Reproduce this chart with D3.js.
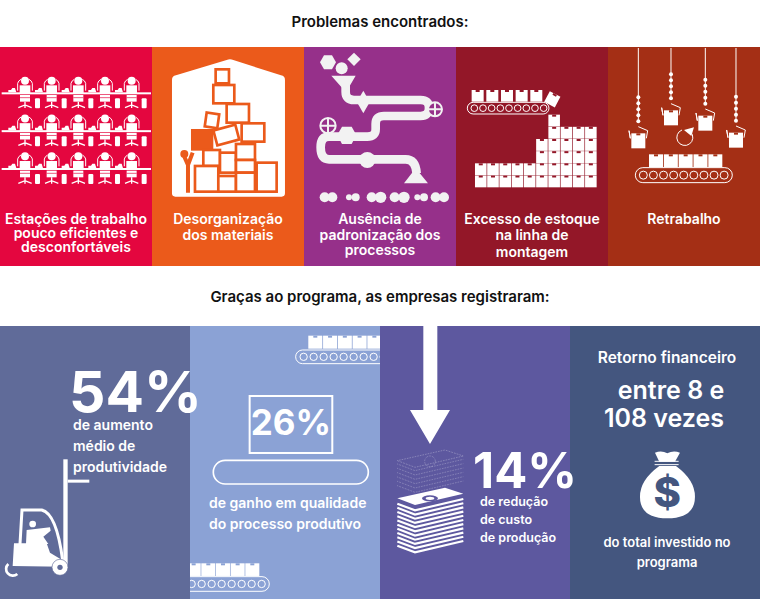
<!DOCTYPE html>
<html>
<head>
<meta charset="utf-8">
<script src="https://cdn.jsdelivr.net/npm/d3@7"></script>
<style>
  html, body { margin: 0; padding: 0; background: #fff; }
  svg { display: block; }
  text { font-family: Inter, "Noto Sans", sans-serif; }
</style>
</head>
<body>
<div id="chart"></div>
<script>
//DATA
var problemsTitle = "Problemas encontrados:";
var resultsTitle = "Graças ao programa, as empresas registraram:";

var problemLabels = [
    ["Estações de trabalho", "pouco eficientes e", "desconfortáveis"],
    ["Desorganização", "dos materiais"],
    ["Ausência de", "padronização dos", "processos"],
    ["Excesso de estoque", "na linha de", "montagem"],
    ["Retrabalho"]
];
var problemColors = ["#e4063f", "#eb5a1b", "#96308a", "#931728", "#a42f15"];

var resultColors = ["#606b99", "#8ba2d5", "#5d589f", "#44567f"];

// boxes in each column of the pile in the "excesso de estoque" panel
var stockColumns = [2, 2, 2, 2, 2, 4, 6, 5, 5, 5];

var workerRows = [0, 1, 2];
var workerCols = [0, 1, 2, 3, 4];

//SIZING
var width = 760, height = 599;
var WHITE = "#fff";

var svg = d3.select("#chart").append("svg")
    .attr("width", width)
    .attr("height", height);

var defs = svg.append("defs");

var problemX = d3.scaleBand().domain(d3.range(problemLabels.length)).range([0, width]);
var resultX = d3.scaleBand().domain(d3.range(resultColors.length)).range([0, width]);

//TITLES
function label(parent, str, x, y, size, anchor, weight) {
    return parent.append("text")
        .attr("x", x)
        .attr("y", y)
        .attr("fill", WHITE)
        .attr("font-size", size)
        .attr("font-weight", weight || 600)
        .attr("text-anchor", anchor || "middle")
        .text(str);
}

label(svg, problemsTitle, 380, 27, 15, "middle", 600).attr("fill", "#111");
label(svg, resultsTitle, 380, 302, 15, "middle", 600).attr("fill", "#111");

//PANELS
svg.selectAll(".problem")
    .data(problemColors)
    .enter().append("rect")
    .attr("class", "problem")
    .attr("x", function (d, i) { return problemX(i); })
    .attr("y", 47)
    .attr("width", problemX.bandwidth())
    .attr("height", 219)
    .attr("fill", function (d) { return d; });

svg.selectAll(".result")
    .data(resultColors)
    .enter().append("rect")
    .attr("class", "result")
    .attr("x", function (d, i) { return resultX(i); })
    .attr("y", 326)
    .attr("width", resultX.bandwidth())
    .attr("height", 273)
    .attr("fill", function (d) { return d; });

// panel labels
var lineY = [[224, 238, 252], [224, 240], [224, 240, 255], [224, 240, 257], [224]];
problemLabels.forEach(function (lines, i) {
    lines.forEach(function (str, j) {
        label(svg, str, problemX(i) + problemX.bandwidth() / 2, lineY[i][j], 14);
    });
});

//ICON HELPERS
// icons are laid out at 3x inside their own group
function icon(x, y) {
    return svg.append("g").attr("transform", "translate(" + x + "," + y + ") scale(0.3333)");
}

function stockBox(g, x, y, w, h, tape) {
    g.append("rect").attr("x", x).attr("y", y).attr("width", w - 2).attr("height", h).attr("fill", WHITE);
    g.append("rect").attr("x", x + w / 2 - 7).attr("y", y).attr("width", 12).attr("height", 6).attr("fill", tape);
}

function conveyor(g, x0, y0, x1, y1, first, step, r, n, sw) {
    g.append("rect")
        .attr("x", x0).attr("y", y0)
        .attr("width", x1 - x0).attr("height", y1 - y0)
        .attr("rx", (y1 - y0) / 2)
        .attr("fill", "none").attr("stroke", WHITE).attr("stroke-width", sw);
    g.selectAll(".roller")
        .data(d3.range(n))
        .enter().append("circle")
        .attr("class", "roller")
        .attr("cx", function (d) { return first + d * step; })
        .attr("cy", (y0 + y1) / 2)
        .attr("r", r)
        .attr("fill", "none").attr("stroke", WHITE).attr("stroke-width", sw);
}

//PANEL 1 - WORKERS
function drawWorkers() {
    var g = icon(0, 40);
    var rowY = d3.scalePoint().domain(workerRows).range([160, 387]);
    var colX = d3.scalePoint().domain(workerCols).range([75, 395]);
    workerRows.forEach(function (r) {
        var y = rowY(r);
        g.append("rect").attr("x", 5).attr("y", y - 3).attr("width", 448).attr("height", 6).attr("fill", WHITE);
        workerCols.forEach(function (c) {
            var w = g.append("g").attr("transform", "translate(" + colX(c) + "," + y + ")");
            w.append("circle").attr("cy", -38).attr("r", 12).attr("fill", WHITE);
            w.append("path").attr("d", "M-22,-8 L-22,-30 Q-20,-38 -12,-42 M22,-8 L22,-30 Q20,-38 12,-42")
                .attr("fill", "none").attr("stroke", WHITE).attr("stroke-width", 3);
            w.append("rect").attr("x", -16).attr("y", -24).attr("width", 32).attr("height", 24).attr("fill", WHITE);
            w.append("rect").attr("x", -15).attr("y", 5).attr("width", 30).attr("height", 20).attr("fill", WHITE);
            w.append("path").attr("d", "M-15,13 L15,13").attr("stroke", problemColors[0]).attr("stroke-width", 2);
            w.append("path").attr("d", "M0,25 L0,44 M-20,43 L0,35 L20,43")
                .attr("fill", "none").attr("stroke", WHITE).attr("stroke-width", 4);
            w.append("path").attr("d", "M-50,-3 L-50,-10 L-42,-10 L-38,-16 L-30,-16 L-26,-3 Z").attr("fill", WHITE);
            w.append("rect").attr("x", 30).attr("y", 15).attr("width", 15).attr("height", 30).attr("rx", 3).attr("fill", WHITE);
        });
    });
}

//PANEL 2 - PILE OF MATERIALS
var pileOutlines = [
    [647, 88, 40, 42, 0], [640, 135, 63, 55, 0], [680, 192, 67, 56, 0],
    [617, 220, 38, 42, 8], [645, 262, 68, 46, -15], [725, 250, 68, 55, 0],
    [610, 330, 50, 48, 0], [660, 338, 48, 60, 0], [708, 312, 57, 48, 0],
    [708, 360, 57, 38, 0], [585, 378, 70, 77, 0], [655, 408, 53, 47, 0],
    [708, 398, 57, 57, 0], [770, 368, 60, 87, 0]
];

function drawPile() {
    var g = icon(0, 40);
    g.append("path")
        .attr("d", "M516,120 Q516,108 528,106 L680,60 Q690,56 700,60 L843,106 Q855,108 855,120 L855,460 Q855,470 845,470 L526,470 Q516,470 516,460 Z")
        .attr("fill", WHITE);
    var c = problemColors[1];
    g.append("rect").attr("x", 573).attr("y", 267).attr("width", 67).attr("height", 65).attr("fill", c);
    pileOutlines.forEach(function (b) {
        g.append("rect")
            .attr("x", b[0]).attr("y", b[1]).attr("width", b[2]).attr("height", b[3])
            .attr("transform", "rotate(" + b[4] + "," + (b[0] + b[2] / 2) + "," + (b[1] + b[3] / 2) + ")")
            .attr("fill", WHITE).attr("stroke", c).attr("stroke-width", 8);
    });
    g.append("circle").attr("cx", 553).attr("cy", 342).attr("r", 12).attr("fill", c);
    g.append("path").attr("d", "M564,458 L564,375 L578,338 M553,350 L564,375").attr("fill", "none").attr("stroke", c).attr("stroke-width", 12);
}

//PANEL 3 - PIPES
function drawPipes() {
    var g = icon(304, 40);
    var pipe = "M125,130 L125,155 Q125,180 150,180 L350,180 Q375,180 375,204 Q375,228 350,228 L240,228 Q215,228 215,252 L215,268 Q215,290 190,290 L75,290 Q50,290 50,322 Q50,358 75,358 L305,358 Q335,358 338,400";
    g.append("path").attr("d", pipe).attr("fill", "none").attr("stroke", "#f2f2f2").attr("stroke-width", 26);
    g.append("path").attr("d", "M82,107 L155,107 L130,150 L120,150 Z M335,385 L372,430 L300,430 Z").attr("fill", "#f2f2f2");
    // pipe joints and shapes falling in
    g.append("path").attr("d", d3.symbol(d3.symbolDiamond, 1300)()).attr("transform", "translate(178,186)").attr("fill", "#f2f2f2");
    g.append("path").attr("d", "M100,285 L114,260 L143,260 L157,285 L143,312 L114,312 Z").attr("fill", "#f2f2f2");
    g.append("circle").attr("cx", 190).attr("cy", 360).attr("r", 24).attr("fill", "#f2f2f2");
    g.append("path").attr("d", "M48,67 L60,46 L84,46 L96,67 L84,88 L60,88 Z").attr("fill", "#f2f2f2");
    g.append("circle").attr("cx", 113).attr("cy", 85).attr("r", 18).attr("fill", "#f2f2f2");
    g.append("path").attr("d", "M150,38 L170,58 L150,78 L130,58 Z").attr("fill", "#f2f2f2");
    // valves
    [[393, 208, 21], [72, 257, 23]].forEach(function (v) {
        var o = g.append("g").attr("transform", "translate(" + v[0] + "," + v[1] + ")");
        o.append("circle").attr("r", v[2]).attr("fill", problemColors[2]).attr("stroke", "#f2f2f2").attr("stroke-width", 6);
        o.append("path").attr("d", "M" + (-v[2]) + ",0 H" + v[2] + " M0," + (-v[2]) + " V" + v[2]).attr("stroke", "#f2f2f2").attr("stroke-width", 6);
    });
    // pieces leaving the line
    [[62, 15], [85, 15], [135, 9], [155, 12], [203, 15], [230, 17], [272, 15], [300, 17], [340, 9], [360, 12], [395, 15], [420, 15]].forEach(function (b) {
        g.append("circle").attr("cx", b[0]).attr("cy", 472).attr("r", b[1]).attr("fill", "#f2f2f2");
    });
}

//PANEL 4 - STOCK
function drawStock() {
    var g = icon(304, 40);
    var tape = problemColors[3];
    conveyor(g, 490, 187, 735, 222, 511, 26, 10, 9, 3);
    d3.range(5).forEach(function (i) {
        stockBox(g, 503 + i * 44, 150, 38, 35, tape);
    });
    var tilted = g.append("g").attr("transform", "rotate(28,745,178)");
    stockBox(tilted, 727, 160, 38, 36, tape);

    var col = d3.scaleBand().domain(d3.range(stockColumns.length)).range([513, 880]);
    var row = d3.scaleLinear().domain([0, 6]).range([443, 224]);
    stockColumns.forEach(function (n, i) {
        d3.range(n).forEach(function (k) {
            stockBox(g, col(i), row(k + 1), col.bandwidth(), row(k) - row(k + 1) - 1, tape);
        });
    });
}

//PANEL 5 - REWORK
var hookX = [91, 189, 292, 384];
var hookBeads = [172, 103, 119, 170];

function drawRework() {
    var g = icon(608, 40);
    var tape = problemColors[4];
    hookX.forEach(function (x, i) {
        var b = hookBeads[i];
        g.append("line").attr("x1", x).attr("x2", x).attr("y1", 24).attr("y2", b + 70)
            .attr("stroke", WHITE).attr("stroke-width", 3);
        d3.range(5).forEach(function (k) {
            g.append("circle").attr("cx", x).attr("cy", b + k * 18).attr("r", 6).attr("fill", WHITE);
        });
        var t = b + 88;
        stockBox(g, x - 21, t + 20, 44, 45, tape);
        g.append("path")
            .attr("d", "M" + x + "," + t + " L" + (x + 28) + "," + (t + 12) + " L" + (x + 24) + "," + (t + 35) + " M" + (x - 24) + "," + (t + 35) + " L" + (x - 28) + "," + (t + 12) + " Z")
            .attr("fill", "none").attr("stroke", WHITE).attr("stroke-width", 3);
    });
    g.append("path").attr("d", "M222,270 A24,24 0 1 0 248,276").attr("fill", "none").attr("stroke", WHITE).attr("stroke-width", 3);
    g.append("path").attr("d", "M258,262 L228,270 L250,288 Z").attr("fill", WHITE);
    d3.range(5).forEach(function (i) {
        stockBox(g, 123 + i * 44.5, 343, 44, 39, tape);
    });
    conveyor(g, 82, 383, 373, 428, 106, 30.3, 12, 9, 3);
}

//RESULT 1 - PRODUCTIVITY
function drawForklift() {
    var g = icon(0, 320);
    var c = resultColors[0];
    g.append("rect").attr("x", 190).attr("y", 418).attr("width", 13).attr("height", 320).attr("fill", WHITE);
    g.append("rect").attr("x", 203).attr("y", 479).attr("width", 65).attr("height", 9).attr("fill", WHITE);
    g.append("path").attr("d", "M60,672 L66,570 L125,570 Q170,580 188,722").attr("fill", "none").attr("stroke", WHITE).attr("stroke-width", 9);
    g.append("path").attr("d", "M42,670 L140,670 L150,698 L190,722 L190,740 L38,738 Z").attr("fill", WHITE);
    g.append("circle").attr("cx", 98).attr("cy", 612).attr("r", 10).attr("fill", WHITE);
    g.append("path").attr("d", "M80,630 L112,626 L150,622 L152,632 L130,650 L145,672 L78,672 Z").attr("fill", WHITE);
    g.append("circle").attr("cx", 180).attr("cy", 742).attr("r", 24).attr("fill", WHITE).attr("stroke", c).attr("stroke-width", 2);
    g.append("circle").attr("cx", 180).attr("cy", 742).attr("r", 8).attr("fill", c);
    g.append("path").attr("d", "M25,732 A16,16 0 0 0 52,762").attr("fill", "none").attr("stroke", WHITE).attr("stroke-width", 8);
}

//RESULT 2 - QUALITY
function drawQuality() {
    var g = icon(0, 320);
    var clip = defs.append("clipPath").attr("id", "quality");
    clip.append("rect").attr("x", 570).attr("y", 0).attr("width", 570).attr("height", 840);
    var tape = resultColors[1];

    var top = g.append("g").attr("clip-path", "url(#quality)");
    conveyor(top, 887, 90, 1200, 131, 911, 30, 11, 9, 3);
    d3.range(5).forEach(function (i) {
        top.append("g").call(function (s) { stockBox(s, 925 + i * 44.3, 47, 44, 39, tape); });
    });

    var bottom = g.append("g").attr("clip-path", "url(#quality)");
    conveyor(bottom, 520, 770, 808, 814, 545, 30, 11, 9, 3);
    d3.range(5).forEach(function (i) {
        stockBox(bottom, 560 + i * 44, 730, 44, 38, tape);
    });

    g.append("rect").attr("x", 749).attr("y", 228).attr("width", 248).attr("height", 171)
        .attr("fill", "none").attr("stroke", WHITE).attr("stroke-width", 6);
    conveyor(g, 640, 421, 1105, 492, 682, 48.5, 20, 9, 5);
}

//RESULT 3 - COST
function drawMoney() {
    var g = icon(380, 320);
    g.append("path").attr("d", "M130,18 H172 V270 H210 L150,372 L90,270 H130 Z").attr("fill", WHITE);

    var face = "M52,0 L195,-32 L250,-14 L105,20 Z";
    var edge = "M52,0 L105,20 L250,-14";

    // ghost stack above (what was cut)
    d3.range(6).forEach(function (i) {
        g.append("path").attr("transform", "translate(0," + (432 + i * 13) + ")").attr("d", edge)
            .attr("fill", "none").attr("stroke", WHITE).attr("stroke-opacity", 0.55).attr("stroke-width", 2).attr("stroke-dasharray", "2 3");
    });
    g.append("path").attr("transform", "translate(0,422)").attr("d", face)
        .attr("fill", "none").attr("stroke", WHITE).attr("stroke-opacity", 0.6).attr("stroke-width", 2).attr("stroke-dasharray", "2 3");
    g.append("circle").attr("cx", 150).attr("cy", 424).attr("r", 16).attr("fill", "none").attr("stroke", WHITE).attr("stroke-opacity", 0.55).attr("stroke-width", 2).attr("stroke-dasharray", "2 3");

    // solid stack
    g.append("path").attr("transform", "translate(0,535)").attr("d", face).attr("fill", WHITE);
    g.append("ellipse").attr("cx", 150).attr("cy", 535).attr("rx", 24).attr("ry", 9).attr("fill", resultColors[2]);
    g.append("ellipse").attr("cx", 150).attr("cy", 535).attr("rx", 13).attr("ry", 5).attr("fill", WHITE);
    d3.range(11).forEach(function (i) {
        g.append("path").attr("transform", "translate(0," + (551 + i * 12.6) + ")").attr("d", edge)
            .attr("fill", "none").attr("stroke", WHITE).attr("stroke-width", 6.5);
    });
}

//RESULT 4 - RETURN
function drawBag() {
    var g = icon(380, 320);
    g.append("path")
        .attr("d", "M825,398 Q845,390 862,400 Q880,390 900,398 L885,425 L838,425 Z M838,438 L888,438 Q945,480 945,530 Q945,595 862,595 Q780,595 780,530 Q780,480 838,438 Z")
        .attr("fill", WHITE);
    g.append("path").attr("d", "M824,424 L896,424 M824,434 L896,434").attr("stroke", WHITE).attr("stroke-width", 3);
    g.append("text").attr("x", 862).attr("y", 560)
        .attr("text-anchor", "middle").attr("font-size", 125).attr("font-weight", 800)
        .attr("fill", resultColors[3]).text("$");
}

drawWorkers();
drawPile();
drawPipes();
drawStock();
drawRework();
drawForklift();
drawQuality();
drawMoney();
drawBag();

//RESULT TEXT
label(svg, "54%", 69, 412, 57, "start", 700);
label(svg, "de aumento", 73, 430, 14, "start");
label(svg, "médio de", 73, 451, 14, "start");
label(svg, "produtividade", 73, 472, 14, "start");

label(svg, "26%", 291, 435, 35, "middle", 700);
label(svg, "de ganho em qualidade", 209, 508, 14, "start");
label(svg, "do processo produtivo", 209, 529, 14, "start");

label(svg, "14%", 473, 488, 49, "start", 700);
label(svg, "de redução", 480, 506, 12.5, "start");
label(svg, "de custo", 480, 524, 12.5, "start");
label(svg, "de produção", 480, 542, 12.5, "start");

label(svg, "Retorno financeiro", 667, 363, 15.5);
label(svg, "entre 8 e", 671, 399, 25);
label(svg, "108 vezes", 664, 427, 25);
label(svg, "do total investido no", 667, 547, 13);
label(svg, "programa", 667, 567, 13);
</script>
</body>
</html>
